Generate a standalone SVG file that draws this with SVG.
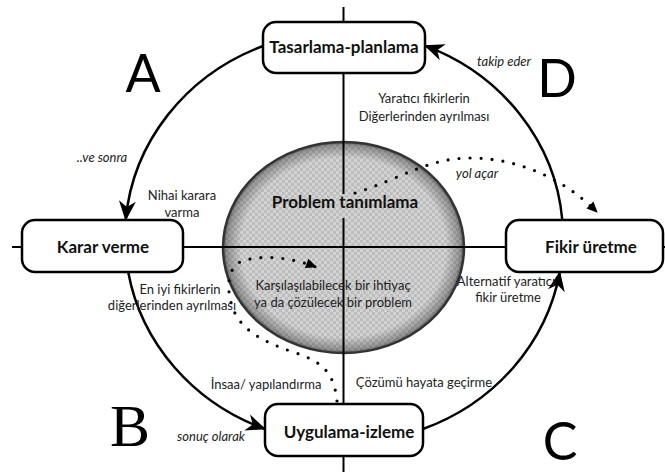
<svg xmlns="http://www.w3.org/2000/svg" width="665" height="472" viewBox="0 0 665 472">
<style>
.box{fill:#fff;stroke:#000;stroke-width:2.5}
.nt{font-family:Lato,"Liberation Sans",sans-serif;font-weight:bold;font-size:17px;fill:#111;text-anchor:middle}
.lb{font-family:Lato,"Liberation Sans",sans-serif;font-size:13px;fill:#222;text-anchor:middle}
.it{font-family:Lato,"Liberation Sans",sans-serif;font-size:13px;font-style:italic;fill:#222;text-anchor:middle}
.big{font-family:Lato,"Liberation Sans",sans-serif;font-size:52px;fill:#000;text-anchor:middle}
.arc{fill:none;stroke:#000;stroke-width:2.5;marker-end:url(#ah)}
.axis{fill:none;stroke:#000;stroke-width:2}
.dot{fill:none;stroke:#000;stroke-width:3.2;stroke-linecap:round;stroke-dasharray:0 11;marker-end:url(#sah)}
</style>
<defs>
<marker id="ah" viewBox="-21 -10 23 20" refX="0" refY="0" markerWidth="23" markerHeight="20" markerUnits="userSpaceOnUse" orient="auto">
<path d="M1,0 L-19,-8.5 L-13,0 L-19,8.5 Z" fill="#000"/>
</marker>
<marker id="sah" viewBox="-12 -7 14 14" refX="0" refY="0" markerWidth="14" markerHeight="14" markerUnits="userSpaceOnUse" orient="auto">
<path d="M1,0 L-10,-5 L-10,5 Z" fill="#000"/>
</marker>
<pattern id="chk" width="6" height="6" patternUnits="userSpaceOnUse">
<rect width="6" height="6" fill="#d3d3d3"/>
<rect width="3" height="3" fill="#bdbdbd"/>
<rect x="3" y="3" width="3" height="3" fill="#bdbdbd"/>
</pattern>
<radialGradient id="rim" cx="50%" cy="50%" r="50%">
<stop offset="0.85" stop-color="#000" stop-opacity="0"/>
<stop offset="0.97" stop-color="#000" stop-opacity="0.3"/>
<stop offset="1" stop-color="#000" stop-opacity="0.55"/>
</radialGradient>
</defs>
<rect width="665" height="472" fill="#fff"/>

<g id="node-problem">
<ellipse cx="343.5" cy="247.5" rx="120.5" ry="105.5" fill="url(#chk)"/>
<ellipse cx="343.5" cy="247.5" rx="120.5" ry="105.5" fill="url(#rim)" stroke="#333" stroke-width="2.5"/>
</g>

<g id="connectors">
<line class="axis" x1="12" y1="247" x2="665" y2="247"/>
<line class="axis" x1="343.5" y1="7" x2="343.5" y2="194"/>
<line class="axis" x1="343.5" y1="218" x2="343.5" y2="472"/>
<path id="arcA" class="arc" d="M263,46 A219,206 0 0 0 125.7,220"/>
<path id="arcB" class="arc" d="M128.2,272 A219,206 0 0 0 265,429"/>
<path id="arcC" class="arc" d="M423,429 A219,206 0 0 0 559.8,272"/>
<path id="arcD" class="arc" d="M562.3,220 A219,206 0 0 0 425,45.6"/>
<path id="dotYol" class="dot" d="M355,193 C400,179 428,158 470,158 C520,158 565,180 597,212"/>
<path id="dotIns" class="dot" d="M337,401 C334,372 322,362 296,353 C266,343 240,331 232,306 C226,286 228,269 240,262 C260,254 290,257 316,267"/>
</g>

<g id="node-tasarlama">
<rect class="box" x="263" y="22" width="162" height="51" rx="13"/>
<text class="nt" x="344" y="53">Tasarlama-planlama</text>
</g>
<g id="node-karar">
<rect class="box" x="22" y="220" width="161" height="52" rx="13"/>
<text class="nt" x="103" y="253">Karar verme</text>
</g>
<g id="node-fikir">
<rect class="box" x="506" y="220" width="157" height="52" rx="13"/>
<text class="nt" x="591" y="253">Fikir üretme</text>
</g>
<g id="node-uygulama">
<rect class="box" x="265" y="404" width="158" height="52" rx="13"/>
<text class="nt" x="349" y="438">Uygulama-izleme</text>
</g>

<text class="nt" x="345" y="208">Problem tanımlama</text>
<text class="lb" x="333" y="290" font-size="14">Karşılaşılabilecek bir ihtiyaç</text>
<text class="lb" x="333" y="307" font-size="14">ya da çözülecek bir problem</text>

<text class="lb" x="424" y="103">Yaratıcı fikirlerin</text>
<text class="lb" x="424" y="121">Diğerlerinden ayrılması</text>
<text class="lb" x="182" y="200">Nihai karara</text>
<text class="lb" x="182" y="217">varma</text>
<text class="lb" x="180" y="294">En iyi fikirlerin</text>
<text class="lb" x="172" y="310">diğerlerinden ayrılması</text>
<text class="lb" x="506" y="286">Alternatif yaratıcı</text>
<text class="lb" x="508" y="302">fikir üretme</text>
<text class="lb" x="266" y="389">İnsaa/ yapılandırma</text>
<text class="lb" x="424" y="387">Çözümü hayata geçirme</text>

<text class="it" x="504" y="66">takip eder</text>
<text class="it" x="102" y="162">..ve sonra</text>
<text class="it" x="477" y="178">yol açar</text>
<text class="it" x="211" y="441">sonuç olarak</text>

<text class="big" x="143" y="92">A</text>
<text class="big" x="557" y="97">D</text>
<text x="130" y="446" font-family="'Liberation Serif',serif" font-size="60" fill="#000" text-anchor="middle">B</text>
<text class="big" x="560" y="460">C</text>
</svg>
